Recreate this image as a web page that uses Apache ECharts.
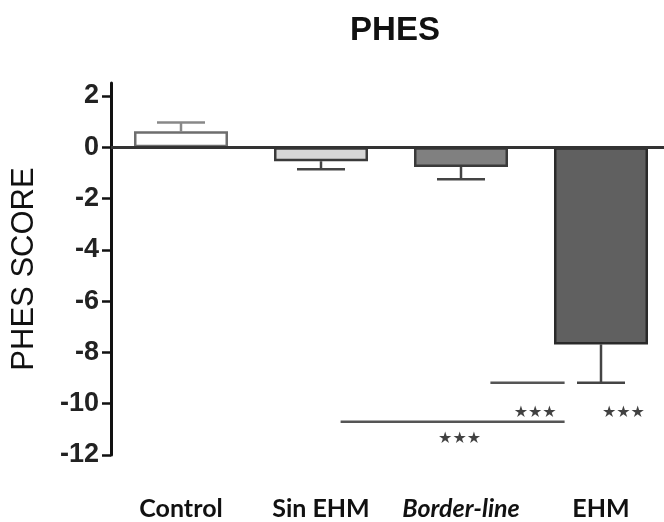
<!DOCTYPE html>
<html>
<head>
<meta charset="utf-8">
<script src="https://cdn.jsdelivr.net/npm/echarts@6/dist/echarts.min.js"></script>
<style>
  html, body { margin: 0; padding: 0; background: #fff; }
  #chart { width: 664px; height: 522px; }
</style>
</head>
<body>
<div id="chart"></div>
<script>
// data
const categories = ["Control", "Sin EHM", "Border-line", "EHM"];
const means = [0.62, -0.55, -0.77, -7.69];
const errorEnds = [0.96, -0.86, -1.25, -9.18];
const barFills = ["#ffffff", "#d6d6d6", "#808080", "#606060"];
const barBorders = ["#6e6e6e", "#3a3a3a", "#3a3a3a", "#2a2a2a"];
const yTicks = [-12, -10, -8, -6, -4, -2, 0, 2];
// significance brackets: [xStart, xEnd, y] in category units
const sigLines = [[2.21, 2.74, -9.18], [1.14, 2.74, -10.7]];
const sigStars = [[2.53, -10.35], [3.16, -10.35], [1.99, -11.38]];

const chart = echarts.init(document.getElementById("chart"));

const errorData = categories.map((c, i) => [i, means[i], errorEnds[i]]);

const option = {
  animation: false,
  backgroundColor: "#fff",
  title: {
    text: "PHES",
    left: 390,
    top: 9,
    textAlign: "center",
    textStyle: { fontFamily: "Liberation Sans", fontWeight: "bold", fontSize: 33, color: "#111" }
  },
  grid: { left: 111, top: 83, width: 560, height: 372, outerBoundsMode: "none" },
  xAxis: [
    {
      type: "category",
      data: categories,
      axisLine: { show: false },
      axisTick: { show: false },
      axisLabel: {
        interval: 0,
        margin: 41,
        fontFamily: "Lato",
        fontWeight: "bold",
        fontSize: 25,
        color: "#111",
        formatter: (v) => (v === "Border-line" ? "{it|" + v + "}" : v),
        rich: { it: { fontStyle: "italic", fontWeight: "bold", fontFamily: "Lato", fontSize: 25, color: "#111" } }
      }
    },
    { type: "value", min: -0.5, max: 3.5, show: false }
  ],
  yAxis: {
    type: "value",
    min: -12,
    max: 2.5,
    name: "PHES SCORE",
    nameLocation: "middle",
    nameGap: 71,
    nameTextStyle: { fontFamily: "Liberation Sans", fontSize: 31, color: "#111" },
    splitLine: { show: false },
    axisLine: { show: true, onZero: false, lineStyle: { color: "#111", width: 3 } },
    axisTick: { show: true, length: 9, customValues: yTicks, lineStyle: { color: "#111", width: 2.5 } },
    axisLabel: {
      customValues: yTicks,
      margin: 12,
      fontFamily: "Liberation Sans",
      fontWeight: "bold",
      fontSize: 27,
      color: "#222"
    }
  },
  series: [
    {
      type: "bar",
      data: means.map((v, i) => ({
        value: v,
        itemStyle: { color: barFills[i], borderColor: barBorders[i], borderWidth: 2.5 }
      })),
      barWidth: 94,
      z: 2,
      markLine: {
        silent: true,
        symbol: "none",
        label: { show: false },
        lineStyle: { color: "#333", width: 3, type: "solid" },
        data: [{ yAxis: 0 }]
      }
    },
    {
      type: "custom",
      z: 1,
      data: errorData,
      renderItem: (params, api) => {
        const i = api.value(0);
        const start = api.coord([i, api.value(1)]);
        const end = api.coord([i, api.value(2)]);
        const half = 24;
        const color = i === 0 ? "#888" : "#444";
        const style = { stroke: color, lineWidth: 2.5 };
        return {
          type: "group",
          children: [
            { type: "line", shape: { x1: start[0], y1: start[1], x2: end[0], y2: end[1] }, style },
            { type: "line", shape: { x1: end[0] - half, y1: end[1], x2: end[0] + half, y2: end[1] }, style }
          ]
        };
      }
    },
    {
      type: "custom",
      xAxisIndex: 1,
      data: sigLines,
      renderItem: (params, api) => {
        const a = api.coord([api.value(0), api.value(2)]);
        const b = api.coord([api.value(1), api.value(2)]);
        return {
          type: "line",
          shape: { x1: a[0], y1: a[1], x2: b[0], y2: b[1] },
          style: { stroke: "#555", lineWidth: 2.5 }
        };
      }
    },
    {
      type: "scatter",
      xAxisIndex: 1,
      data: sigStars,
      symbolSize: 0,
      label: {
        show: true,
        position: "inside",
        formatter: "★★★",
        fontFamily: "DejaVu Sans",
        fontSize: 16,
        color: "#111"
      }
    }
  ]
};

chart.setOption(option);
</script>
</body>
</html>
